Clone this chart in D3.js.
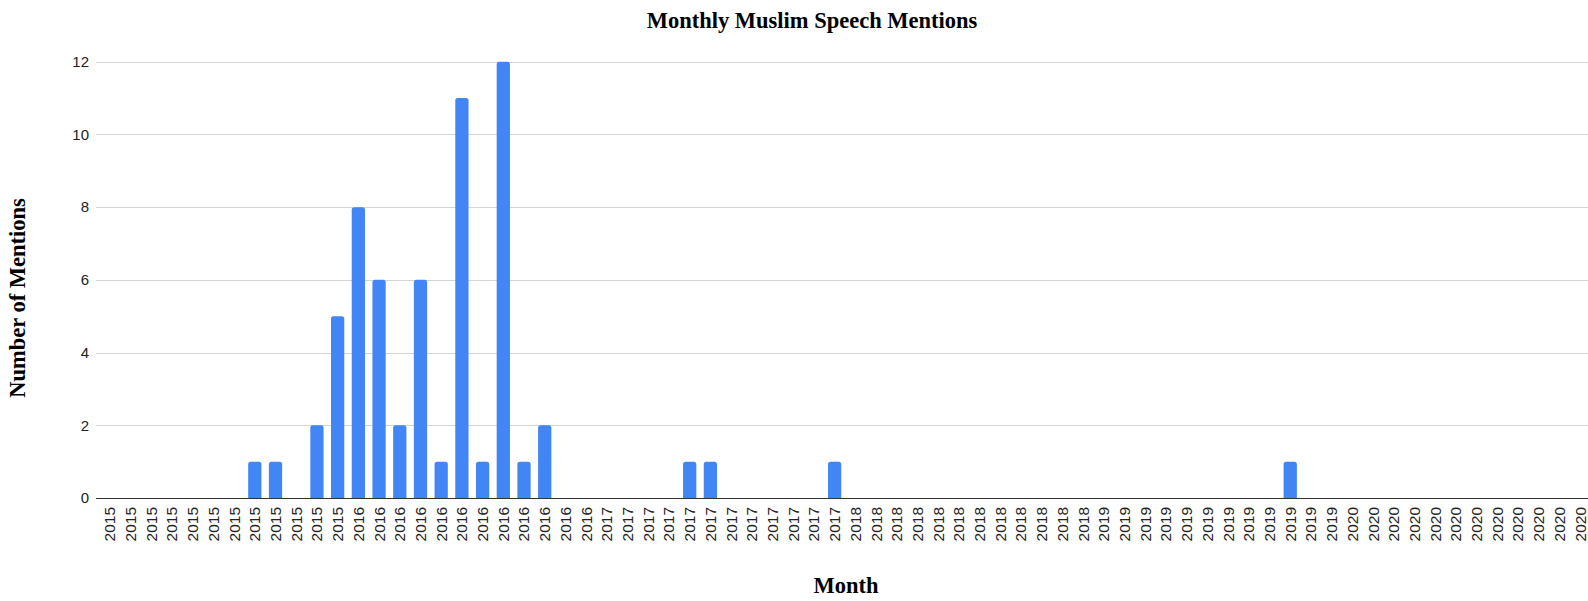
<!DOCTYPE html>
<html>
<head>
<meta charset="utf-8">
<script src="https://cdn.jsdelivr.net/npm/d3@7"></script>
<style>
  html, body { margin: 0; padding: 0; background: #fff; overflow: hidden; }
  svg { display: block; }
</style>
</head>
<body>
<svg id="chart" width="1588" height="601"></svg>
<script>
// Months Jan 2015 – Dec 2020
const years = [2015, 2016, 2017, 2018, 2019, 2020];
const months = years.flatMap(y => d3.range(12).map(m => ({ key: `${y}-${m + 1}`, label: String(y) })));

// Monthly mention counts, in month order
const mentions = [
  0, 0, 0, 0, 0, 0, 0, 1, 1, 0, 2, 5,        // 2015
  8, 6, 2, 6, 1, 11, 1, 12, 1, 2, 0, 0,      // 2016
  0, 0, 0, 0, 1, 1, 0, 0, 0, 0, 0, 1,        // 2017
  0, 0, 0, 0, 0, 0, 0, 0, 0, 0, 0, 0,        // 2018
  0, 0, 0, 0, 0, 0, 0, 0, 0, 1, 0, 0,        // 2019
  0, 0, 0, 0, 0, 0, 0, 0, 0, 0, 0, 0         // 2020
];

const yTicks = [0, 2, 4, 6, 8, 10, 12];

const chartTitle = "Monthly Muslim Speech Mentions";
const xTitle = "Month";
const yTitle = "Number of Mentions";

const data = months.map((m, i) => ({ key: m.key, label: m.label, value: mentions[i] }));

const svg = d3.select("#chart");
const plot = { left: 99.5, right: 1590.5, top: 61.7, bottom: 498 };

const x = d3.scaleBand()
  .domain(data.map(d => d.key))
  .range([plot.left, plot.right])
  .paddingInner(0.36)
  .paddingOuter(0.18);

const y = d3.scaleLinear().domain([0, 12]).range([plot.bottom, plot.top]);

// horizontal gridlines
svg.append("g")
  .selectAll("line")
  .data(yTicks.filter(t => t !== 0))
  .join("line")
  .attr("x1", 96).attr("x2", 1588)
  .attr("y1", d => Math.round(y(d)) + 0.5)
  .attr("y2", d => Math.round(y(d)) + 0.5)
  .attr("stroke", "#d4d4d4")
  .attr("stroke-width", 1);

// y tick labels
const yAxis = d3.axisLeft(y).tickValues(yTicks).tickSize(0).tickPadding(0);
svg.append("g")
  .attr("transform", "translate(89,0)")
  .call(yAxis)
  .call(g => g.select(".domain").remove())
  .call(g => g.selectAll("text")
    .attr("font-family", "Liberation Sans, Arial, sans-serif")
    .attr("font-size", 15)
    .attr("fill", "#222"));

// bars with slightly rounded tops
const r = 2.5;
svg.append("g")
  .selectAll("path")
  .data(data.filter(d => d.value > 0))
  .join("path")
  .attr("fill", "#4285f4")
  .attr("d", d => {
    const x0 = x(d.key), w = x.bandwidth();
    const y0 = y(d.value), y1 = y(0);
    return `M${x0},${y1}V${y0 + r}Q${x0},${y0} ${x0 + r},${y0}H${x0 + w - r}Q${x0 + w},${y0} ${x0 + w},${y0 + r}V${y1}Z`;
  });

// baseline
svg.append("line")
  .attr("x1", 96).attr("x2", 1588)
  .attr("y1", Math.round(y(0)) + 0.5).attr("y2", Math.round(y(0)) + 0.5)
  .attr("stroke", "#333")
  .attr("stroke-width", 1);

// x tick labels, rotated
const xAxis = d3.axisBottom(x).tickSize(0).tickPadding(0).tickFormat((k, i) => data[i].label);
svg.append("g")
  .attr("transform", `translate(0,${plot.bottom})`)
  .call(xAxis)
  .call(g => g.select(".domain").remove())
  .call(g => g.selectAll("text")
    .attr("font-family", "Liberation Sans, Arial, sans-serif")
    .attr("font-size", 15.5)
    .attr("fill", "#222")
    .attr("text-anchor", "end")
    .attr("transform", "translate(0,9) rotate(-90)")
    .attr("x", 0)
    .attr("y", 0)
    .attr("dy", "0.35em"));

// titles
svg.append("text")
  .attr("x", 812).attr("y", 28)
  .attr("text-anchor", "middle")
  .attr("font-family", "Liberation Serif, Times New Roman, serif")
  .attr("font-weight", "bold")
  .attr("font-size", 22.5)
  .attr("fill", "#000")
  .text(chartTitle);

svg.append("text")
  .attr("x", 846).attr("y", 593)
  .attr("text-anchor", "middle")
  .attr("font-family", "Liberation Serif, Times New Roman, serif")
  .attr("font-weight", "bold")
  .attr("font-size", 22.5)
  .attr("fill", "#000")
  .text(xTitle);

svg.append("text")
  .attr("transform", "translate(25,298) rotate(-90)")
  .attr("text-anchor", "middle")
  .attr("font-family", "Liberation Serif, Times New Roman, serif")
  .attr("font-weight", "bold")
  .attr("font-size", 22.5)
  .attr("fill", "#000")
  .text(yTitle);
</script>
</body>
</html>
